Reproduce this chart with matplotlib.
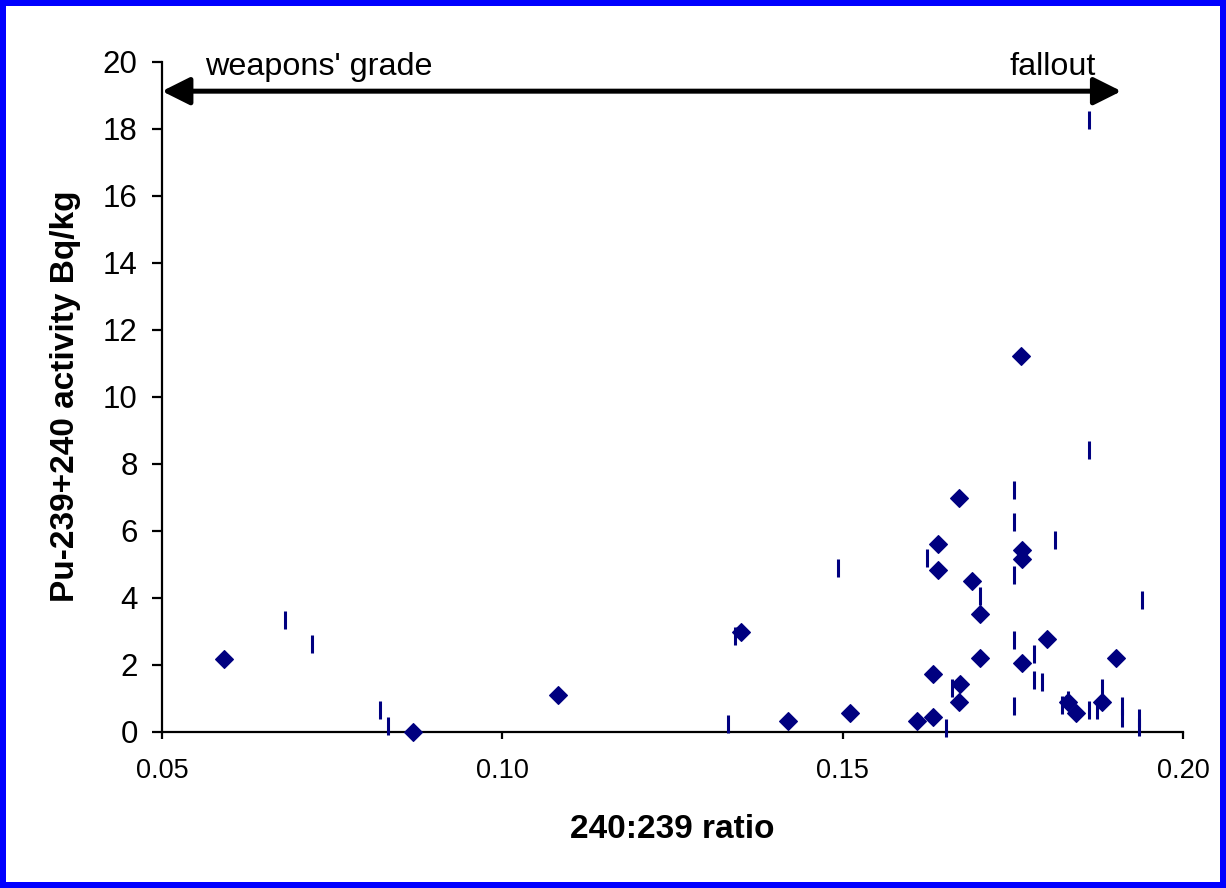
import matplotlib
matplotlib.use("Agg")
import matplotlib.pyplot as plt
from matplotlib.patches import Rectangle

plt.rcParams['font.family'] = ['Liberation Sans', 'DejaVu Sans']

# Series 1: diamonds (240:239 ratio, Pu activity Bq/kg)
diamond_x = [0.0591, 0.0869, 0.1081, 0.1351, 0.1419, 0.1510, 0.1609, 0.1632,
             0.1632, 0.1639, 0.1639, 0.1671, 0.1672, 0.1671, 0.1689, 0.1701,
             0.1701, 0.1763, 0.1763, 0.1763, 0.1762, 0.1800, 0.1830, 0.1842,
             0.1880, 0.1901]
diamond_y = [2.17, 0.00, 1.09, 2.96, 0.32, 0.54, 0.32, 0.42,
             1.73, 5.59, 4.81, 6.98, 1.43, 0.87, 4.49, 3.51,
             2.19, 5.42, 5.16, 2.04, 11.21, 2.75, 0.89, 0.54,
             0.87, 2.19]

# Series 2: vertical-dash markers
dash_x = [0.0680, 0.0721, 0.0820, 0.0832, 0.1332, 0.1341, 0.1493, 0.1651,
          0.1623, 0.1752, 0.1752, 0.1811, 0.1752, 0.1702, 0.1940, 0.1752,
          0.1781, 0.1781, 0.1793, 0.1661, 0.1752, 0.1822, 0.1831, 0.1861,
          0.1873, 0.1881, 0.1910, 0.1910, 0.1935, 0.1935, 0.1861, 0.1861]
dash_y = [3.33, 2.62, 0.64, 0.17, 0.23, 2.86, 4.87, 0.10,
          5.19, 7.21, 6.25, 5.73, 4.66, 4.05, 3.93, 2.74,
          2.32, 1.55, 1.48, 1.30, 0.77, 0.78, 0.95, 0.65,
          0.64, 1.30, 0.76, 0.40, 0.40, 0.13, 8.40, 18.26]

x_ticks = [0.05, 0.10, 0.15, 0.20]
x_tick_labels = ["0.05", "0.10", "0.15", "0.20"]
y_ticks = list(range(0, 21, 2))

x_label = "240:239 ratio"
y_label = "Pu-239+240 activity Bq/kg"
left_text = "weapons' grade"
right_text = "fallout"
arrow_y = 19.12
arrow_x_left = 0.05
arrow_x_right = 0.1909

W, H = 1226, 888
fig = plt.figure(figsize=(W / 100, H / 100), dpi=100)
fig.patch.set_facecolor('#0000FF')
b = 6
fig.patches.append(Rectangle((b / W, b / H), 1 - 2 * b / W, 1 - 2 * b / H,
                             transform=fig.transFigure, facecolor='white',
                             edgecolor='none', zorder=-10))

ax = fig.add_axes([162 / W, 1 - 731.5 / H, 1021.3 / W, 669.8 / H])
ax.set_facecolor('none')
navy = '#000080'

ax.plot(dash_x, dash_y, linestyle='none', marker='|', markersize=13,
        markeredgewidth=2.2, color=navy, clip_on=False, zorder=3)
ax.plot(diamond_x, diamond_y, linestyle='none', marker='D', markersize=9,
        markeredgewidth=0.8, color=navy, clip_on=False, zorder=4)

ax.set_xlim(0.05, 0.20)
ax.set_ylim(0, 20)
ax.set_xticks(x_ticks)
ax.set_xticklabels(x_tick_labels)
ax.set_yticks(y_ticks)

for s in ['top', 'right']:
    ax.spines[s].set_visible(False)
for s in ['left', 'bottom']:
    ax.spines[s].set_linewidth(1.6)
    ax.spines[s].set_color('black')

ax.tick_params(axis='y', direction='out', length=7.5, width=1.6,
               labelsize=22.5, pad=10, colors='black')
ax.tick_params(axis='x', direction='out', length=5, width=1.6,
               labelsize=19.5, pad=14, colors='black')

ax.set_xlabel(x_label, fontsize=24, fontweight='bold', labelpad=22)
ax.set_ylabel(y_label, fontsize=24, fontweight='bold', labelpad=16)

ax.annotate('', xy=(arrow_x_left, arrow_y), xytext=(arrow_x_right, arrow_y),
            arrowprops=dict(arrowstyle='<|-|>', mutation_scale=42, lw=3.6,
                            color='black', shrinkA=0, shrinkB=0),
            annotation_clip=False)

ax.text((205 - 162) / 1021.3, (731.5 - 75) / 669.8, left_text,
        transform=ax.transAxes, fontsize=23.3, ha='left', va='baseline')
ax.text((1096 - 162) / 1021.3, (731.5 - 75) / 669.8, right_text,
        transform=ax.transAxes, fontsize=23.3, ha='right', va='baseline')

fig.savefig('out.png', dpi=100, facecolor=fig.get_facecolor())
